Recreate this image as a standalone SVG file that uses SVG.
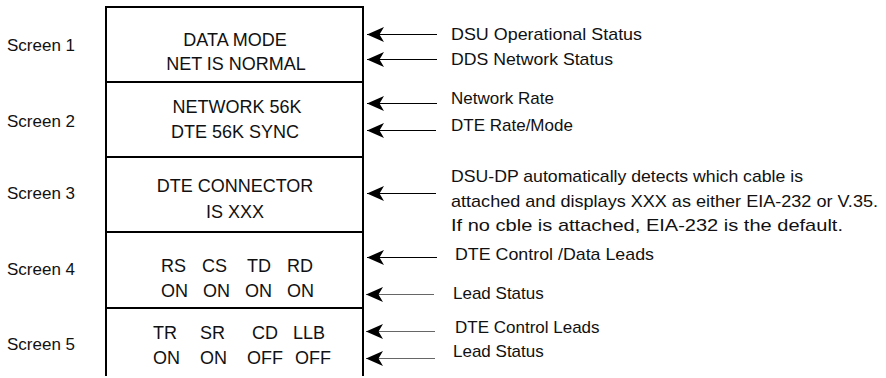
<svg xmlns="http://www.w3.org/2000/svg" width="886" height="378" viewBox="0 0 886 378">
<style>
text{font-family:"Liberation Sans",Arial,sans-serif;fill:#111}
.lbl{font-size:17px}
.box{font-size:18px}
.mid{text-anchor:middle}
.note{font-size:17px}
.frame{fill:none;stroke:#000;stroke-width:2}
.arr{stroke:#000;stroke-width:1;fill:none;marker-end:url(#ah)}
.arr.g{stroke:#666}
</style>
<defs>
<marker id="ah" markerUnits="userSpaceOnUse" markerWidth="20" markerHeight="18" viewBox="0 -9 20 18" refX="17" refY="0" orient="auto">
<path d="M0,-7.5 L17,0 L0,7.5 L4.5,0 Z" fill="#000"/>
</marker>
</defs>

<g id="frame">
<path class="frame" d="M106,376 V7 H363 V376"/>
</g>

<g id="screen1">
<line class="frame" x1="106" y1="82" x2="363" y2="82"/>
<text class="lbl" x="7" y="51">Screen 1</text>
<text class="box mid" x="235" y="46">DATA MODE</text>
<text class="box mid" x="236" y="70">NET IS NORMAL</text>
</g>

<g id="screen2">
<line class="frame" x1="106" y1="157" x2="363" y2="157"/>
<text class="lbl" x="7" y="127">Screen 2</text>
<text class="box mid" x="237" y="113">NETWORK 56K</text>
<text class="box mid" x="235" y="138">DTE 56K SYNC</text>
</g>

<g id="screen3">
<line class="frame" x1="106" y1="232" x2="363" y2="232"/>
<text class="lbl" x="7" y="199">Screen 3</text>
<text class="box mid" x="235" y="192">DTE CONNECTOR</text>
<text class="box mid" x="235" y="218">IS XXX</text>
</g>

<g id="screen4">
<line class="frame" x1="106" y1="308" x2="363" y2="308"/>
<text class="lbl" x="7" y="275">Screen 4</text>
<text class="box" y="272"><tspan x="161">RS</tspan><tspan x="202">CS</tspan><tspan x="247">TD</tspan><tspan x="287">RD</tspan></text>
<text class="box" y="297"><tspan x="161">ON</tspan><tspan x="203">ON</tspan><tspan x="245">ON</tspan><tspan x="287">ON</tspan></text>
</g>

<g id="screen5">
<text class="lbl" x="7" y="350">Screen 5</text>
<text class="box" y="339"><tspan x="153">TR</tspan><tspan x="200">SR</tspan><tspan x="252">CD</tspan><tspan x="293">LLB</tspan></text>
<text class="box" y="364"><tspan x="153">ON</tspan><tspan x="200">ON</tspan><tspan x="247">OFF</tspan><tspan x="295">OFF</tspan></text>
</g>

<g id="notes">
<text class="note" x="451" y="40" textLength="191" lengthAdjust="spacingAndGlyphs">DSU Operational Status</text>
<text class="note" x="451" y="65" textLength="162" lengthAdjust="spacingAndGlyphs">DDS Network Status</text>
<text class="note" x="451" y="104">Network Rate</text>
<text class="note" x="451" y="131">DTE Rate/Mode</text>
<text class="note" x="451" y="182" textLength="352" lengthAdjust="spacingAndGlyphs">DSU-DP automatically detects which cable is</text>
<text class="note" x="451" y="207" textLength="427" lengthAdjust="spacingAndGlyphs">attached and displays XXX as either EIA-232 or V.35.</text>
<text class="note" x="451" y="231" textLength="392" lengthAdjust="spacingAndGlyphs">If no cble is attached, EIA-232 is the default.</text>
<text class="note" x="455" y="260" textLength="199" lengthAdjust="spacingAndGlyphs">DTE Control /Data Leads</text>
<text class="note" x="453" y="299">Lead Status</text>
<text class="note" x="455" y="333">DTE Control Leads</text>
<text class="note" x="453" y="357">Lead Status</text>
</g>

<g id="connectors">
<line class="arr" x1="437" y1="34.5" x2="367" y2="34.5"/>
<line class="arr" x1="437" y1="59.5" x2="367" y2="59.5"/>
<line class="arr" x1="437" y1="103.5" x2="367" y2="103.5"/>
<line class="arr" x1="436" y1="130.5" x2="367" y2="130.5"/>
<line class="arr" x1="436" y1="193.5" x2="367" y2="193.5"/>
<line class="arr" x1="437" y1="257.5" x2="367" y2="257.5"/>
<line class="arr g" x1="434" y1="294.5" x2="366" y2="294.5"/>
<line class="arr g" x1="435" y1="331.5" x2="366" y2="331.5"/>
<line class="arr g" x1="435" y1="358.5" x2="366" y2="358.5"/>
</g>
</svg>
